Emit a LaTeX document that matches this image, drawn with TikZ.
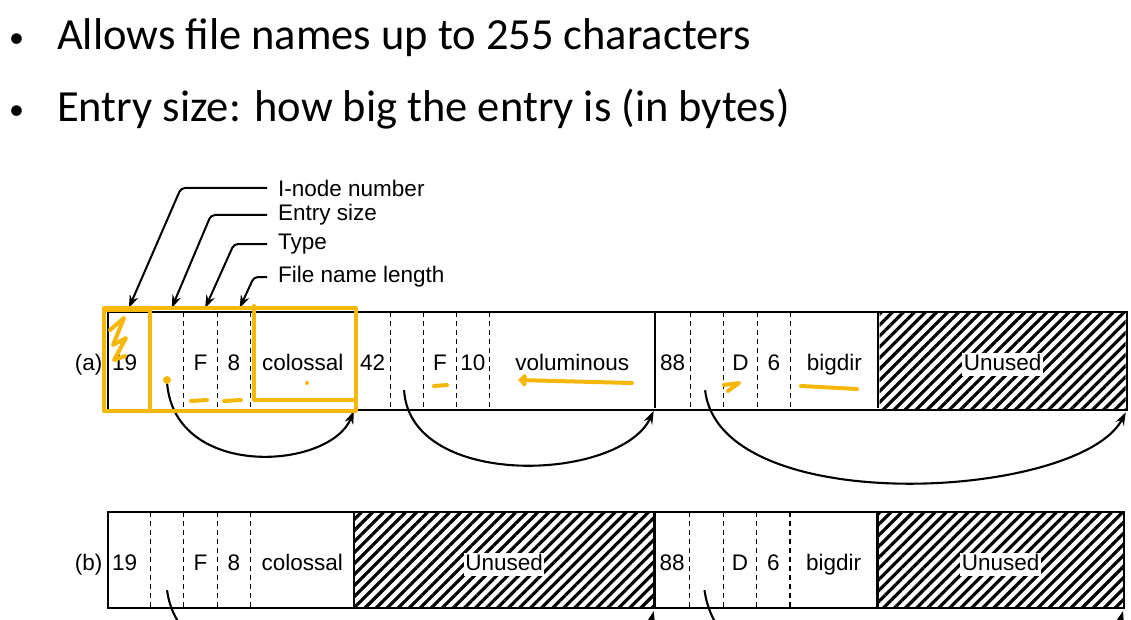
\documentclass[tikz,border=0pt]{standalone}
\usepackage{fontspec}
\setmainfont{Liberation Sans}
\newfontfamily\slidefont{Carlito}
\usetikzlibrary{positioning, arrows.meta, patterns.meta}
\definecolor{hilite}{HTML}{F5B70A}

\begin{document}
\begin{tikzpicture}[
        x=1pt, y=-1pt,
        slide/.style={anchor=base west, inner sep=0pt, font=\slidefont\fontsize{44.5pt}{48pt}\selectfont},
        cell/.style={rectangle, minimum height=96pt, inner sep=0pt, text height=20pt, text depth=0pt, font=\fontsize{22.5pt}{26pt}\selectfont},
        unused/.style={rectangle, minimum height=96pt, inner sep=0pt, pattern={Lines[angle=45, distance=7.8pt, line width=3.2pt]}},
        knock/.style={fill=white, inner sep=1.5pt, text height=16pt, text depth=4.5pt, yshift=-4.25pt, font=\fontsize{22.5pt}{26pt}\selectfont},
        legend/.style={anchor=west, inner xsep=11pt, inner ysep=2pt, font=\fontsize{22.5pt}{26pt}\selectfont},
        border/.style={line width=2.2pt},
        sep/.style={line width=1.2pt, dash pattern=on 5pt off 4pt},
        lead/.style={-{Stealth[length=13pt, width=9pt]}, line width=2pt, rounded corners=4pt, shorten >=4pt},
        hop/.style={-{Stealth[length=13pt, width=9pt]}, line width=2.1pt, shorten >=3pt},
        marker/.style={draw=hilite, line width=4pt, line cap=round, line join=round}
    ]

    \clip (0,0) rectangle (1131,620);

    % Slide text
    \node[slide, font=\slidefont\fontsize{30pt}{30pt}\selectfont] (dot1) at (9,48) {•};
    \node[slide] (txt1) at (57,50) {Allows file names up to 255 characters};
    \node[slide, font=\slidefont\fontsize{30pt}{30pt}\selectfont] (dot2) at (9,120) {•};
    \node[slide] (txt2) at (57,122) {Entry size: how big the entry is (in bytes)};

    % Row (a)
    \node[cell, anchor=west, minimum width=42pt, text width=34pt, align=left] (arec19) at (108,360) {19};
    \node[cell, minimum width=33pt, right=0pt of arec19] (aes1) {};
    \node[cell, minimum width=33pt, right=0pt of aes1] (atyp1) {F};
    \node[cell, minimum width=33pt, right=0pt of atyp1] (alen1) {8};
    \node[cell, minimum width=104pt, right=0pt of alen1] (anam1) {colossal};
    \node[cell, minimum width=35pt, right=0pt of anam1] (arec42) {42};
    \node[cell, minimum width=33pt, right=0pt of arec42] (aes2) {};
    \node[cell, minimum width=32pt, right=0pt of aes2] (atyp2) {F};
    \node[cell, minimum width=33pt, right=0pt of atyp2] (alen2) {10};
    \node[cell, minimum width=165pt, right=0pt of alen2] (anam2) {voluminous};
    \node[cell, minimum width=35pt, right=0pt of anam2] (arec88) {88};
    \node[cell, minimum width=33pt, right=0pt of arec88] (aes3) {};
    \node[cell, minimum width=33pt, right=0pt of aes3] (atyp3) {D};
    \node[cell, minimum width=33pt, right=0pt of atyp3] (alen3) {6};
    \node[cell, minimum width=87pt, right=0pt of alen3] (anam3) {bigdir};
    \node[unused, minimum width=246pt, right=0pt of anam3] (afree) {};
    \node[knock] (afreetxt) at (afree) {Unused};
    \node[knock, fill=none, left=4pt of arec19] (alabel) {(a)};

    \draw[border] (arec19.north west) rectangle (afree.south east);
    \foreach \c in {arec19, aes1, atyp1, alen1, arec42, aes2, atyp2, alen2, arec88, aes3, atyp3, alen3}
        \draw[sep] (\c.north east) -- (\c.south east);
    \foreach \c in {anam1, anam2, anam3}
        \draw[border] (\c.north east) -- (\c.south east);

    % Row (b)
    \node[cell, anchor=west, minimum width=42pt, text width=34pt, align=left] (brec19) at (108,560) {19};
    \node[cell, minimum width=33pt, right=0pt of brec19] (bes1) {};
    \node[cell, minimum width=33pt, right=0pt of bes1] (btyp1) {F};
    \node[cell, minimum width=33pt, right=0pt of btyp1] (blen1) {8};
    \node[cell, minimum width=103pt, right=0pt of blen1] (bnam1) {colossal};
    \node[unused, minimum width=300pt, right=0pt of bnam1] (bgap) {};
    \node[knock] (bgaptxt) at (bgap) {Unused};
    \node[cell, minimum width=35pt, right=0pt of bgap] (brec88) {88};
    \node[cell, minimum width=33pt, right=0pt of brec88] (bes3) {};
    \node[cell, minimum width=33pt, right=0pt of bes3] (btyp3) {D};
    \node[cell, minimum width=33pt, right=0pt of btyp3] (blen3) {6};
    \node[cell, minimum width=87pt, right=0pt of blen3] (bnam3) {bigdir};
    \node[unused, minimum width=246pt, right=0pt of bnam3] (bfree) {};
    \node[knock] (bfreetxt) at (bfree) {Unused};
    \node[knock, fill=none, left=4pt of brec19] (blabel) {(b)};

    \draw[border] (brec19.north west) rectangle (bfree.south east);
    \foreach \c in {brec19, bes1, btyp1, blen1, brec88, bes3, btyp3, blen3}
        \draw[sep] (\c.north east) -- (\c.south east);
    \foreach \c in {bnam1, bgap, bnam3}
        \draw[border] (\c.north east) -- (\c.south east);

    % Field names
    \node[legend] (inode) at (267,188) {I-node number};
    \node[legend] (esize) at (267,215) {Entry size};
    \node[legend] (ftype) at (267,244) {Type};
    \node[legend] (flen) at (267,277) {File name length};

    \draw[lead] (inode.west) -- ++(-86,0) -- ([xshift=-2pt]arec19.north);
    \draw[lead] (esize.west) -- ++(-56,0) -- ([xshift=3pt]aes1.north);
    \draw[lead] (ftype.west) -- ++(-33,0) -- ([xshift=3pt]atyp1.north);
    \draw[lead] (flen.west) -- ++(-13,0) -- ([xshift=4pt]alen1.north);

    % Entry size hops
    \draw[hop] ([yshift=25pt]aes1.south) .. controls (175,480) and (330,470) .. (anam1.south east);
    \draw[hop] ([xshift=-3pt, yshift=18pt]aes2.south) .. controls (410,490) and (620,482) .. (anam2.south east);
    \draw[hop] ([xshift=-2pt, yshift=18pt]aes3.south) .. controls (720,520) and (1080,500) .. (afree.south east);
    \draw[hop] ([yshift=18pt]bes1.south) .. controls (185,740) and (625,730) .. (bgap.south east);
    \draw[hop] ([xshift=-2pt, yshift=18pt]bes3.south) .. controls (725,740) and (1090,730) .. (bfree.south east);

    % Highlighter marks
    \draw[marker] (104,308) rectangle (356,411);
    \draw[marker] (105,310) -- (150,310) -- (150,408);
    \draw[marker] (254,306) -- (254,400) -- (356,400);
    \draw[marker] (110,330) -- (124,318) -- (113,345) -- (126,338) -- (114,360) -- (125,356);
    \fill[hilite] (167,380) circle (4pt);
    \draw[marker] (191,401) -- (207,400);
    \draw[marker] (224,401) -- (241,400);
    \fill[hilite] (307,383) circle (2pt);
    \draw[marker] (434,386) -- (447,385);
    \draw[marker, -{Straight Barb[length=5pt]}] (632,383) -- (518,380);
    \draw[marker] (724,385) -- (739,383) -- (728,391);
    \draw[marker] (801,386) -- (857,389);
\end{tikzpicture}
\end{document}
